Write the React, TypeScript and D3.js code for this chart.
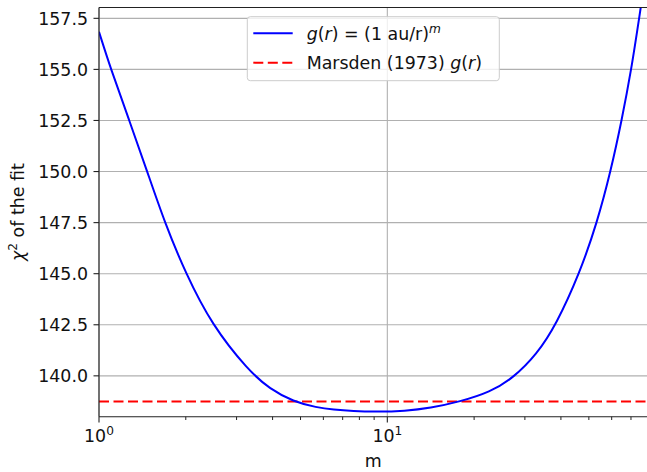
import React, { useEffect, useRef } from "react";
import * as d3 from "d3";

// values
const mValues = [1, 1.1, 1.274, 1.47, 1.69, 2.0, 2.46, 3.3, 3.92, 4.72, 5.69, 6.5, 7.6, 9.2, 11.5, 14.06, 17.87, 22.7, 27.35, 32.97, 38.5, 46.4, 53.4, 59.5, 65.0, 70.2, 74.7, 80];
const chi2Values = [156.84, 155, 152.5, 150, 147.5, 145, 142.5, 140.25, 139.35, 138.74, 138.45, 138.34, 138.27, 138.24, 138.28, 138.42, 138.74, 139.2, 139.9, 141.05, 142.5, 145, 147.5, 150, 152.5, 155, 157.5, 160.3];
const marsdenChi2 = 138.74;
const yTicks = [140, 142.5, 145, 147.5, 150, 152.5, 155, 157.5];
const xMajor = [1, 10];
const xMinor = [2, 3, 4, 5, 6, 7, 8, 9, 20, 30, 40, 50, 60, 70, 80];

const W = 647;
const H = 472;
const left = 99;
const right = 647.7;
const top = 7.5;
const bottom = 416.7;
const FONT = "DejaVu Sans";
const FS = 17.4;

const App = () => {
  const svgRef = useRef<SVGSVGElement>(null);

  useEffect(() => {
    const svg = d3.select(svgRef.current);
    svg.selectAll("*").remove();

    const x = d3.scaleLog().domain([1, 80]).range([left, right]);
    const y = d3.scaleLinear().domain([138.0, 158.03]).range([bottom, top]);

    svg.append("defs").append("clipPath").attr("id", "plotclip")
      .append("rect")
      .attr("x", left).attr("y", top)
      .attr("width", right - left).attr("height", bottom - top);

    // grid
    const grid = svg.append("g").attr("stroke", "#b0b0b0").attr("stroke-width", 1.1);
    yTicks.forEach((t) => {
      grid.append("line").attr("x1", left).attr("x2", right).attr("y1", y(t)).attr("y2", y(t));
    });
    xMajor.forEach((t) => {
      grid.append("line").attr("x1", x(t)).attr("x2", x(t)).attr("y1", top).attr("y2", bottom);
    });

    const plot = svg.append("g").attr("clip-path", "url(#plotclip)");

    // Marsden line
    plot.append("line")
      .attr("x1", left).attr("x2", right)
      .attr("y1", y(marsdenChi2)).attr("y2", y(marsdenChi2))
      .attr("stroke", "red").attr("stroke-width", 2)
      .attr("stroke-dasharray", "10 4.5");

    const line = d3.line<number>()
      .x((d, i) => x(mValues[i]))
      .y((d) => y(d))
      .curve(d3.curveBasis);

    plot.append("path")
      .attr("d", line(chi2Values))
      .attr("fill", "none")
      .attr("stroke", "blue")
      .attr("stroke-width", 2);

    // spines
    const spine = svg.append("g").attr("stroke", "#222").attr("stroke-width", 1.1);
    spine.append("line").attr("x1", left).attr("x2", left).attr("y1", top).attr("y2", bottom);
    spine.append("line").attr("x1", left).attr("x2", right).attr("y1", bottom).attr("y2", bottom);
    spine.append("line").attr("x1", left).attr("x2", right).attr("y1", top).attr("y2", top);
    spine.append("line").attr("x1", right).attr("x2", right).attr("y1", top).attr("y2", bottom);

    // y ticks
    const yt = svg.append("g");
    yTicks.forEach((t) => {
      yt.append("line").attr("x1", left - 5.5).attr("x2", left).attr("y1", y(t)).attr("y2", y(t))
        .attr("stroke", "#222").attr("stroke-width", 1.1);
      yt.append("text")
        .attr("x", left - 11).attr("y", y(t)).attr("dy", "0.36em")
        .attr("text-anchor", "end")
        .attr("font-family", FONT).attr("font-size", FS)
        .attr("fill", "#111")
        .text(d3.format(".1f")(t));
    });

    // x ticks
    const xt = svg.append("g");
    xMinor.forEach((t) => {
      xt.append("line").attr("x1", x(t)).attr("x2", x(t)).attr("y1", bottom).attr("y2", bottom + 3.3)
        .attr("stroke", "#222").attr("stroke-width", 1);
    });
    xMajor.forEach((t) => {
      xt.append("line").attr("x1", x(t)).attr("x2", x(t)).attr("y1", bottom).attr("y2", bottom + 5.8)
        .attr("stroke", "#222").attr("stroke-width", 1.1);
      const txt = xt.append("text")
        .attr("x", x(t)).attr("y", 441.7)
        .attr("text-anchor", "middle")
        .attr("font-family", FONT).attr("font-size", FS)
        .attr("fill", "#111");
      txt.append("tspan").text("10");
      txt.append("tspan").attr("font-size", FS * 0.7).attr("dy", -7).text(String(Math.round(Math.log10(t))));
    });

    // axis labels
    svg.append("text")
      .attr("x", (left + right) / 2).attr("y", 466.5)
      .attr("text-anchor", "middle")
      .attr("font-family", FONT).attr("font-size", FS)
      .attr("fill", "#111")
      .text("m");

    const yl = svg.append("text")
      .attr("transform", `translate(24,${(top + bottom) / 2}) rotate(-90)`)
      .attr("text-anchor", "middle")
      .attr("font-family", FONT).attr("font-size", FS)
      .attr("fill", "#111");
    yl.append("tspan").attr("font-style", "italic").text("χ");
    yl.append("tspan").attr("font-size", FS * 0.7).attr("dy", -7).text("2");
    yl.append("tspan").attr("dy", 7).text(" of the fit");

    // legend
    const lg = svg.append("g");
    lg.append("rect")
      .attr("x", 247.3).attr("y", 16.7).attr("width", 252).attr("height", 64)
      .attr("rx", 3).attr("fill", "white").attr("fill-opacity", 0.8)
      .attr("stroke", "#cccccc").attr("stroke-width", 1);
    lg.append("line").attr("x1", 253.3).attr("x2", 292.7).attr("y1", 33.3).attr("y2", 33.3)
      .attr("stroke", "blue").attr("stroke-width", 2);
    lg.append("line").attr("x1", 253.3).attr("x2", 292.7).attr("y1", 62.7).attr("y2", 62.7)
      .attr("stroke", "red").attr("stroke-width", 2).attr("stroke-dasharray", "10 4.5");

    const t1 = lg.append("text").attr("x", 306.7).attr("y", 33.3).attr("dy", "0.36em")
      .attr("font-family", FONT).attr("font-size", FS).attr("fill", "#111");
    t1.append("tspan").attr("font-style", "italic").text("g");
    t1.append("tspan").text("(");
    t1.append("tspan").attr("font-style", "italic").text("r");
    t1.append("tspan").text(") = (1 au/r)");
    t1.append("tspan").attr("font-style", "italic").attr("font-size", FS * 0.7).attr("dy", -7).text("m");

    const t2 = lg.append("text").attr("x", 306.7).attr("y", 62.7).attr("dy", "0.36em")
      .attr("font-family", FONT).attr("font-size", FS).attr("fill", "#111");
    t2.append("tspan").text("Marsden (1973) ");
    t2.append("tspan").attr("font-style", "italic").text("g");
    t2.append("tspan").text("(");
    t2.append("tspan").attr("font-style", "italic").text("r");
    t2.append("tspan").text(")");
  }, []);

  return (
    <svg
      ref={svgRef}
      width={W}
      height={H}
      style={{ position: "absolute", left: 0, top: 0, background: "white", display: "block" }}
    />
  );
};

export default App;
